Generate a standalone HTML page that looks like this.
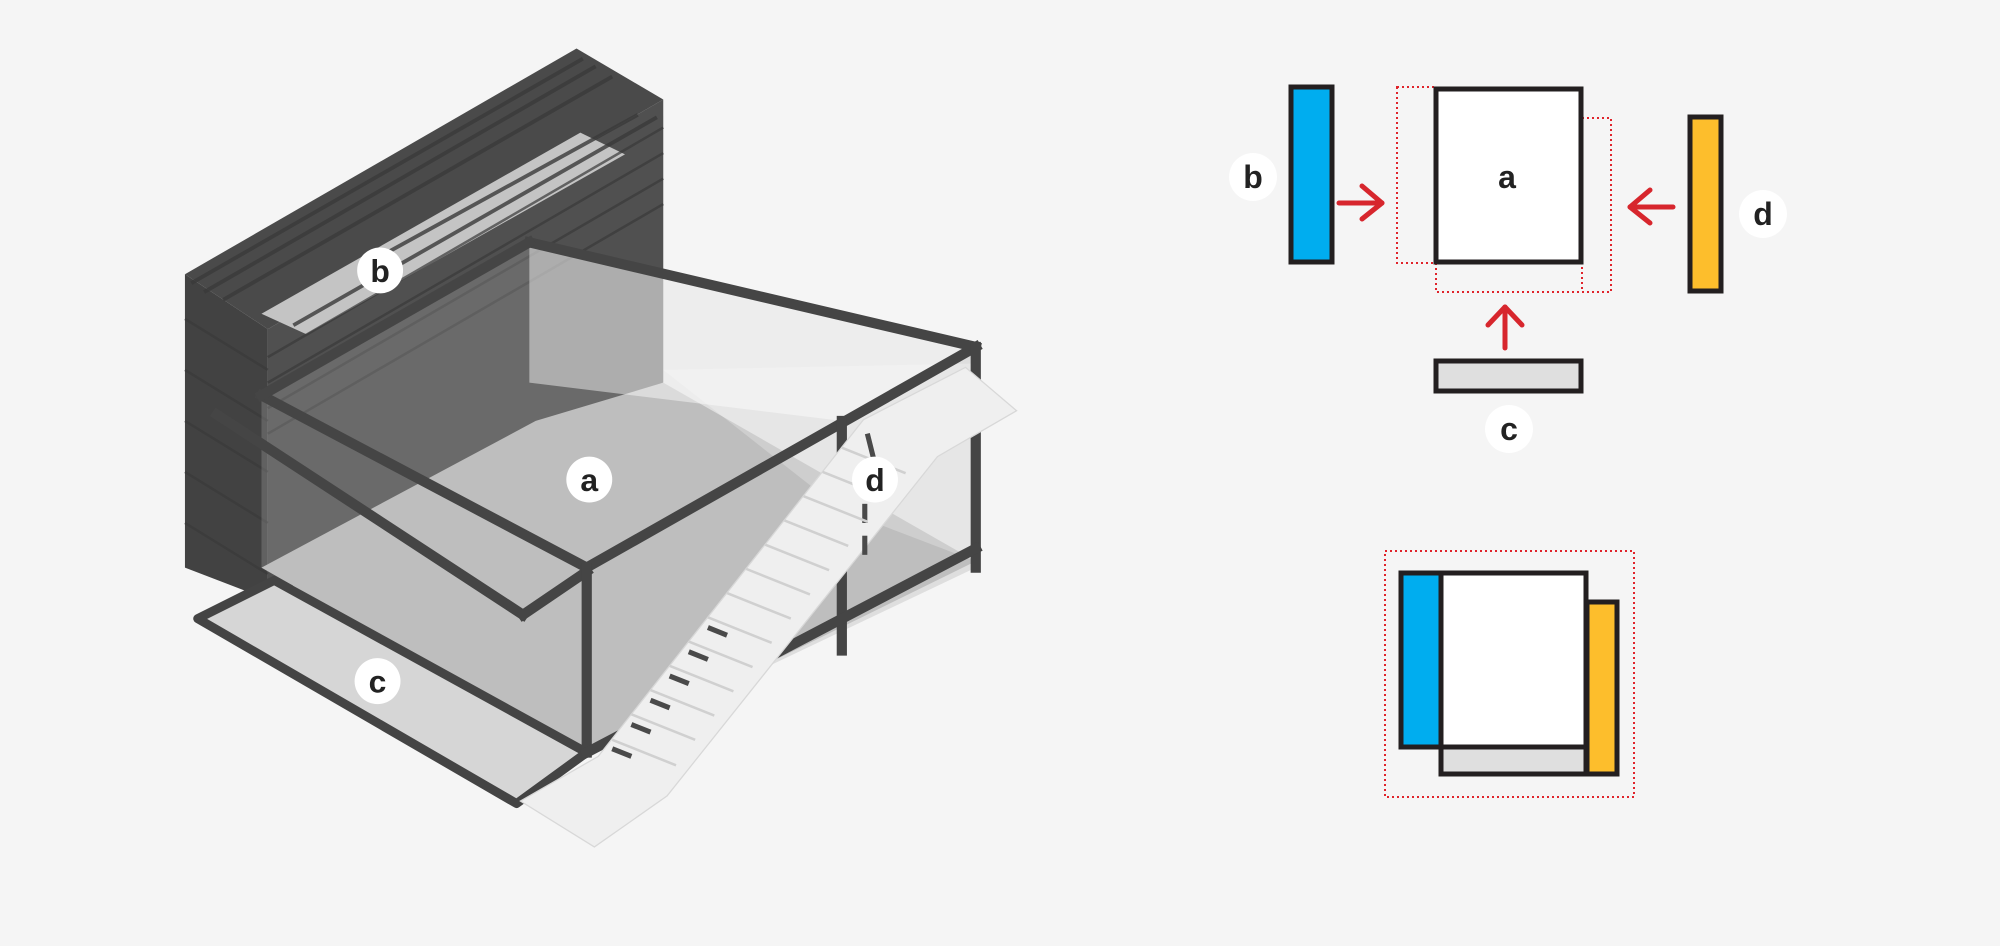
<!DOCTYPE html>
<html><head><meta charset="utf-8"><style>
html,body{margin:0;padding:0;background:#f5f5f5;}
svg{display:block;}
text{font-family:"Liberation Sans",sans-serif;font-weight:bold;fill:#222;}
</style></head><body>
<svg width="2000" height="946" viewBox="0 0 2000 946" xmlns="http://www.w3.org/2000/svg">
<rect width="2000" height="946" fill="#f5f5f5"/>
<g transform="scale(1.2755)">
  <!-- container b -->
  <polygon points="210,258 520,78 520,300 210,470" fill="#505050"/>
  <polygon points="145,215 210,258 210,470 145,445" fill="#424242"/>
  <polygon points="145,215 452,38 520,78 210,258" fill="#4a4a4a"/>
  <polygon points="205,246 455,104 490,121 240,262" fill="#c4c4c4"/>
  <g stroke="#3a3a3a" stroke-width="3" opacity="0.8">
    <line x1="150" y1="222" x2="457" y2="46"/><line x1="160" y1="229" x2="467" y2="52"/>
    <line x1="175" y1="235" x2="480" y2="60"/>
    <line x1="300" y1="200" x2="500" y2="90"/><line x1="230" y1="255" x2="515" y2="92"/>
  </g>
  <g stroke="#3a3a3a" stroke-width="2" opacity="0.7">
    <line x1="210" y1="280" x2="520" y2="100"/><line x1="210" y1="300" x2="520" y2="120"/>
    <line x1="210" y1="320" x2="520" y2="140"/><line x1="210" y1="340" x2="520" y2="160"/>
    <line x1="145" y1="250" x2="210" y2="290"/><line x1="145" y1="290" x2="210" y2="330"/>
    <line x1="145" y1="330" x2="210" y2="370"/><line x1="145" y1="370" x2="210" y2="410"/>
    <line x1="145" y1="410" x2="210" y2="450"/>
  </g>
  <!-- glass box floor & walls -->
  <polygon points="205,445 420,330 520,300 765,440 460,590" fill="#c8c8c8"/>
  <polygon points="205,308 415,190 765,272 765,445 460,590 205,445" fill="#a8a8a8" opacity="0.3"/>
  <polygon points="415,190 765,272 660,330 415,300" fill="#ffffff" opacity="0.45"/>
  <polygon points="520,290 765,285 765,440 660,400" fill="#ffffff" opacity="0.25"/>
  <!-- platform c -->
  <polygon points="155,485 215,455 460,590 405,630" fill="#d6d6d6" stroke="#444" stroke-width="7" stroke-linejoin="round"/>
  <!-- frame -->
  <g stroke="#454545" stroke-width="8" fill="none" stroke-linecap="square">
    <line x1="205" y1="310" x2="460" y2="445"/>
    <line x1="460" y1="445" x2="765" y2="272"/>
    <line x1="765" y1="272" x2="415" y2="190"/>
    <line x1="415" y1="190" x2="205" y2="310"/>
    <line x1="170" y1="325" x2="410" y2="482"/>
    <line x1="410" y1="482" x2="460" y2="448"/>
    <line x1="460" y1="445" x2="460" y2="590"/>
    <line x1="660" y1="330" x2="660" y2="510"/>
    <line x1="765" y1="272" x2="765" y2="445"/>
    <line x1="460" y1="590" x2="765" y2="430"/>
  </g>
  <!-- stairs -->
  <polygon points="408,628 469,593 677,329 757,288 797,322 735,358 523,624 466,664" fill="#efefef" stroke="#d8d8d8" stroke-width="1"/>
  <g stroke="#4a4a4a" stroke-width="4">
    <line x1="480" y1="587" x2="495" y2="593"/><line x1="495" y1="568" x2="510" y2="574"/>
    <line x1="510" y1="549" x2="525" y2="555"/><line x1="525" y1="530" x2="540" y2="536"/>
    <line x1="540" y1="511" x2="555" y2="517"/><line x1="555" y1="492" x2="570" y2="498"/>
    <line x1="680" y1="340" x2="685" y2="360"/><line x1="678" y1="372" x2="678" y2="384"/>
    <line x1="678" y1="395" x2="678" y2="410"/><line x1="678" y1="420" x2="678" y2="435"/>
  </g>
  <g stroke="#d0d0d0" stroke-width="2">
    <line x1="480" y1="580" x2="530" y2="600"/><line x1="495" y1="560" x2="545" y2="580"/>
    <line x1="510" y1="541" x2="560" y2="561"/><line x1="525" y1="522" x2="575" y2="542"/>
    <line x1="540" y1="503" x2="590" y2="523"/><line x1="555" y1="484" x2="605" y2="504"/>
    <line x1="570" y1="465" x2="620" y2="485"/><line x1="585" y1="446" x2="635" y2="466"/>
    <line x1="600" y1="427" x2="650" y2="447"/><line x1="615" y1="408" x2="665" y2="428"/>
    <line x1="630" y1="389" x2="680" y2="409"/><line x1="645" y1="370" x2="695" y2="390"/>
    <line x1="660" y1="351" x2="710" y2="371"/>
  </g>
  <!-- labels -->
  <g>
    <circle cx="298" cy="212" r="18" fill="#fff"/><text x="298" y="221" font-size="25" text-anchor="middle">b</text>
    <circle cx="462" cy="376" r="18" fill="#fff"/><text x="462" y="385" font-size="25" text-anchor="middle">a</text>
    <circle cx="686" cy="376" r="18" fill="#fff"/><text x="686" y="385" font-size="25" text-anchor="middle">d</text>
    <circle cx="296" cy="534" r="18" fill="#fff"/><text x="296" y="543" font-size="25" text-anchor="middle">c</text>
  </g>
</g>
<!-- right diagram (actual coords) -->
<g fill="none" stroke="#e0242b" stroke-width="2" stroke-dasharray="2,3">
  <rect x="1397" y="87" width="40" height="176"/>
  <polyline points="1582,118 1611,118 1611,292 1436,292 1436,262"/>
  <line x1="1582" y1="262" x2="1582" y2="292"/>
  <rect x="1385" y="551" width="249" height="246"/>
</g>
<rect x="1291" y="87" width="41" height="175" fill="#00adef" stroke="#231f20" stroke-width="5"/>
<rect x="1436" y="89" width="145" height="173" fill="#fff" stroke="#231f20" stroke-width="5"/>
<rect x="1690" y="117" width="31" height="174" fill="#fdbe2c" stroke="#231f20" stroke-width="5"/>
<rect x="1436" y="361" width="145" height="30" fill="#dfdfdf" stroke="#231f20" stroke-width="5"/>
<g stroke="#d7262d" stroke-width="5" fill="none" stroke-linecap="round" stroke-linejoin="round">
  <line x1="1339" y1="203" x2="1382" y2="203"/><polyline points="1362,186 1382,203 1362,219"/>
  <line x1="1673" y1="207" x2="1630" y2="207"/><polyline points="1650,190 1630,207 1650,223"/>
  <line x1="1505" y1="348" x2="1505" y2="307"/><polyline points="1488,325 1505,307 1522,325"/>
</g>
<circle cx="1253" cy="177" r="24" fill="#fff"/><text x="1253" y="188" font-size="32" text-anchor="middle">b</text>
<text x="1507" y="188" font-size="32" text-anchor="middle">a</text>
<circle cx="1763" cy="214" r="24" fill="#fff"/><text x="1763" y="225" font-size="32" text-anchor="middle">d</text>
<circle cx="1509" cy="429" r="24" fill="#fff"/><text x="1509" y="440" font-size="32" text-anchor="middle">c</text>
<!-- combined -->
<rect x="1441" y="744" width="145" height="30" fill="#dfdfdf" stroke="#231f20" stroke-width="5"/>
<rect x="1587" y="602" width="30" height="172" fill="#fdbe2c" stroke="#231f20" stroke-width="5"/>
<rect x="1401" y="573" width="41" height="174" fill="#00adef" stroke="#231f20" stroke-width="5"/>
<rect x="1441" y="573" width="145" height="174" fill="#fff" stroke="#231f20" stroke-width="5"/>
</svg>
</body></html>
